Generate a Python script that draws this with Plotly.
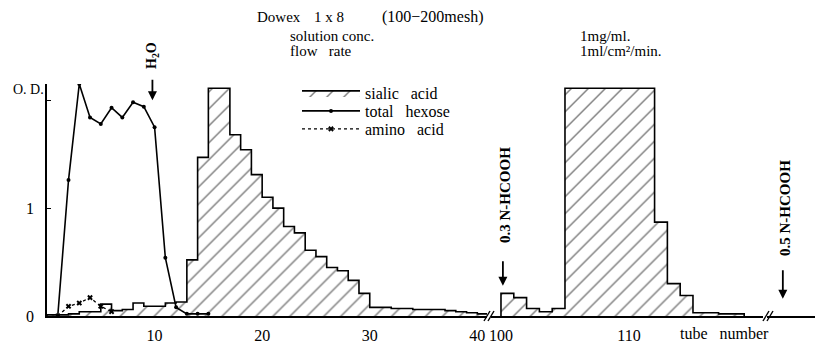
import plotly.graph_objects as go

# ---------------- data ----------------
tubes_a = list(range(0, 41))
sialic_a = [0.01, 0.01, 0.02, 0.04, 0.04, 0.11, 0.05, 0.06, 0.12, 0.09,
            0.09, 0.12, 0.13, 0.52, 1.47, 2.11, 2.11, 1.68, 1.54, 1.31,
            1.10, 1.00, 0.83, 0.77, 0.61, 0.55, 0.45, 0.42, 0.33, 0.21,
            0.08, 0.08, 0.07, 0.07, 0.06, 0.06, 0.06, 0.05, 0.04, 0.03, 0.02]
tubes_b = list(range(100, 119))
sialic_b = [0.21, 0.17, 0.07, 0.04, 0.07, 2.11, 2.11, 2.11, 2.11, 2.11,
            2.11, 2.11, 0.87, 0.30, 0.19, 0.03, 0.03, 0.02, 0.02]
hexose_tubes = list(range(1, 16))
hexose = [0.0, 1.26, 2.15, 1.84, 1.78, 1.93, 1.84, 1.98, 1.94, 1.75,
          0.54, 0.08, 0.02, 0.02, 0.02]
amino_tubes = [1, 2, 3, 4, 5, 6]
amino = [0.0, 0.09, 0.12, 0.17, 0.09, 0.04]

x_ticks_a = [10, 20, 30, 40]
x_ticks_b = [100, 110]
y_ticks = [0, 1, 2]
y_ticktext = ["0", "1", ""]

# ---------------- helpers ----------------
W, H = 815, 352
L, R, T, B = 47, 0, 84, 36
PW, PH = W - L - R, H - T - B


def px(x):
    return (x - L) / PW


def py(y):
    return (H - B - y) / PH


def steps(t, v):
    xs, ys = [t[0]], [0]
    for ti, vi in zip(t, v):
        xs += [ti, ti + 1]
        ys += [vi, vi]
    xs.append(t[-1] + 1)
    ys.append(0)
    return xs, ys


SERIF = "Liberation Serif, Times New Roman, serif"
hatch = dict(shape="/", fgcolor="black", bgcolor="white", size=12, solidity=0.12)
nb = "\u00a0"

fig = go.Figure()

xa, ya = steps(tubes_a, sialic_a)
fig.add_trace(go.Scatter(x=xa, y=ya, mode="lines", fill="toself", fillcolor="white",
                         fillpattern=hatch, line=dict(color="black", width=1.6),
                         name=f"sialic{nb*3}acid", xaxis="x", yaxis="y", legend="legend"))
xb, yb = steps(tubes_b, sialic_b)
fig.add_trace(go.Scatter(x=xb, y=yb, mode="lines", fill="toself", fillcolor="white",
                         fillpattern=hatch, line=dict(color="black", width=1.6),
                         showlegend=False, xaxis="x2", yaxis="y"))
fig.add_trace(go.Scatter(x=hexose_tubes, y=hexose, mode="lines+markers",
                         line=dict(color="black", width=1.6),
                         marker=dict(color="black", size=4),
                         name=f"total{nb*3}hexose", xaxis="x", yaxis="y", legend="legend2"))
fig.add_trace(go.Scatter(x=amino_tubes, y=amino, mode="lines+markers",
                         line=dict(color="black", width=1.3, dash="dot"),
                         marker=dict(color="black", size=5, symbol="x"),
                         name=f"amino{nb*3}acid", xaxis="x", yaxis="y", legend="legend3"))

d1 = [0, px(487)]
d2 = [px(491), px(763)]
d3 = [px(767), 1]
axis_common = dict(showgrid=False, zeroline=False, showline=True, linecolor="black",
                   linewidth=1.6, ticks="", anchor="y")
tickstyle = dict(tickfont=dict(family=SERIF, size=16, color="black"), ticklabelstandoff=4)


def leg(ycenter):
    return dict(x=px(297), y=py(ycenter), xanchor="left", yanchor="middle",
                bgcolor="rgba(0,0,0,0)", itemwidth=58,
                font=dict(family=SERIF, size=16, color="black"))


fig.update_layout(
    width=W, height=H,
    margin=dict(l=L, r=R, t=T, b=B),
    paper_bgcolor="white", plot_bgcolor="white",
    font=dict(family=SERIF, color="black"),
    xaxis=dict(domain=d1, range=[0, 40.9], tickvals=x_ticks_a, **axis_common, **tickstyle),
    xaxis2=dict(domain=d2, range=[99.22, 120.47], tickvals=x_ticks_b, **axis_common, **tickstyle),
    xaxis3=dict(domain=d3, range=[0, 1], showticklabels=False, **axis_common),
    yaxis=dict(range=[0, 2.15], tickvals=y_ticks, ticktext=y_ticktext, showgrid=False,
               zeroline=False, showline=True, linecolor="black", linewidth=1.6,
               ticks="inside", ticklen=4, tickcolor="black",
               tickfont=dict(family=SERIF, size=16, color="black"), ticklabelstandoff=8),
    legend=leg(93), legend2=leg(111), legend3=leg(129),
    showlegend=True,
)

ann = []


def text(x, y, s, size=15, xanchor="left", angle=0, yanchor="middle", bold=False):
    if bold:
        s = f"<b>{s}</b>"
    ann.append(dict(x=px(x), y=py(y), xref="paper", yref="paper", text=s, showarrow=False,
                    xanchor=xanchor, yanchor=yanchor, textangle=angle,
                    font=dict(family=SERIF, size=size, color="black")))


text(255, 17, "Dowex", 15)
text(312, 17, "1 x 8", 15)
text(380, 17, "(100\u2212200mesh)", 16)
text(288, 36, "solution conc.", 15)
text(288, 51, f"flow{nb*3}rate", 15)
text(578, 36, "1mg/ml.", 15)
text(578, 51, "1ml/cm\u00b2/min.", 15)
text(46, 89, "O. D.", 14, xanchor="right")
text(678, 333, f"tube{nb*3}number", 16)
text(152, 56, "H<sub>2</sub>O", 14, xanchor="center", angle=-90, bold=True)
text(505, 195, "0.3 N-HCOOH", 15, xanchor="center", angle=-90, bold=True)
text(785, 208, "0.5 N-HCOOH", 15, xanchor="center", angle=-90, bold=True)

# arrows
for xr, xv, yv, ay in [("x", 9.8, 2.0, -22), ("x2", 100.15, 0.28, -26), ("x3", 0.33, 0.16, -30)]:
    ann.append(dict(x=xv, y=yv, xref=xr, yref="y", ax=0, ay=ay, showarrow=True,
                    arrowhead=2, arrowsize=1, arrowwidth=1.8, arrowcolor="black", text=""))
fig.update_layout(annotations=ann)

# broken-axis marks
shapes = []
for bx in (484, 763):
    for dx in (0, 4):
        shapes.append(dict(type="line", xref="paper", yref="paper",
                           x0=px(bx + dx), y0=py(321), x1=px(bx + dx + 6), y1=py(311),
                           line=dict(color="black", width=1.4)))
fig.update_layout(shapes=shapes)

fig.write_html("out.html")
